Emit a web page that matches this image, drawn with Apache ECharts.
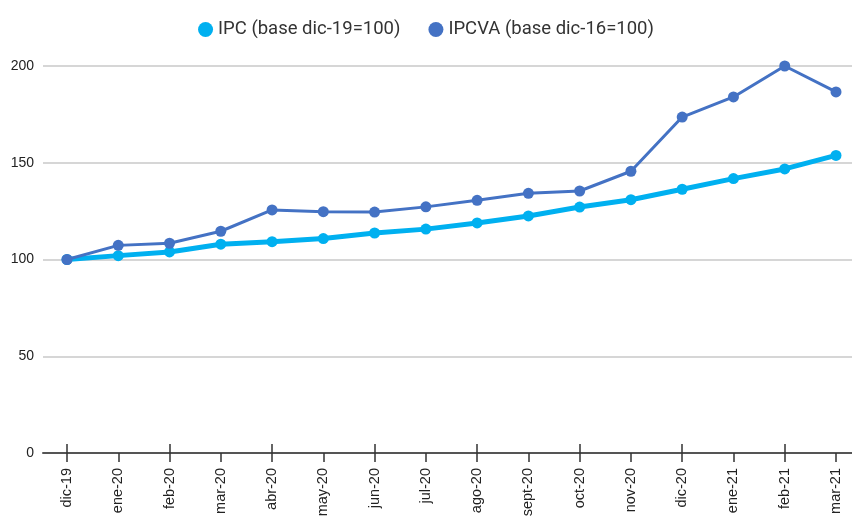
<!DOCTYPE html>
<html>
<head>
<meta charset="utf-8">
<script src="https://cdn.jsdelivr.net/npm/echarts@6/dist/echarts.min.js"></script>
<style>
  html, body { margin: 0; padding: 0; background: #fff; }
  #chart { width: 852px; height: 516px; }
</style>
</head>
<body>
<div id="chart"></div>
<script>
// categorías (meses)
const months = ['dic-19', 'ene-20', 'feb-20', 'mar-20', 'abr-20', 'may-20', 'jun-20', 'jul-20',
  'ago-20', 'sept-20', 'oct-20', 'nov-20', 'dic-20', 'ene-21', 'feb-21', 'mar-21']
// valores
const ipc = [100, 102.0, 103.9, 107.9, 109.2, 110.8, 113.7, 115.7, 118.9, 122.5, 127.1, 130.9, 136.3, 141.8, 146.8, 153.8]
const ipcva = [100, 107.3, 108.4, 114.6, 125.6, 124.7, 124.5, 127.2, 130.6, 134.2, 135.4, 145.6, 173.6, 184.0, 200.0, 186.6]
const yTicks = { min: 0, max: 200, interval: 50 }

const labelFont = 'Liberation Sans, Arial, sans-serif'

let option = {
  animation: false,
  legend: {
    top: 15,
    left: 'center',
    itemWidth: 15,
    itemHeight: 15,
    itemGap: 28,
    icon: 'circle',
    textStyle: { fontFamily: 'Roboto', fontSize: 18.5, color: '#333' },
    data: ['IPC (base dic-19=100)', 'IPCVA (base dic-16=100)']
  },
  grid: [
    // datos y marcas del eje x
    { left: 67, right: 16, top: 66, bottom: 63, outerBoundsMode: 'none', containLabel: false },
    // líneas de rejilla y etiquetas del eje y
    { left: 43, right: 0, top: 66, bottom: 63, outerBoundsMode: 'none', containLabel: false }
  ],
  xAxis: [
    {
      type: 'category',
      gridIndex: 0,
      data: months,
      boundaryGap: false,
      axisLine: { show: false },
      axisTick: { show: true, length: 9, lineStyle: { color: '#333', width: 1.5 } },
      axisLabel: {
        rotate: 90,
        margin: 15,
        fontFamily: labelFont,
        fontSize: 14.5,
        color: '#222'
      },
      splitLine: { show: false }
    },
    {
      // parte interior de las marcas que cruzan el eje
      type: 'category',
      gridIndex: 0,
      data: months,
      boundaryGap: false,
      position: 'bottom',
      axisLine: { show: false },
      axisTick: { show: true, inside: true, length: 9, lineStyle: { color: '#333', width: 1.5 } },
      axisLabel: { show: false },
      splitLine: { show: false }
    },
    {
      type: 'value',
      gridIndex: 1,
      min: 0,
      max: 1,
      axisLine: { show: true, lineStyle: { color: '#555', width: 2 } },
      axisTick: { show: false },
      axisLabel: { show: false },
      splitLine: { show: false }
    }
  ],
  yAxis: [
    {
      type: 'value',
      gridIndex: 0,
      min: yTicks.min,
      max: yTicks.max,
      interval: yTicks.interval,
      show: false
    },
    {
      type: 'value',
      gridIndex: 1,
      min: yTicks.min,
      max: yTicks.max,
      interval: yTicks.interval,
      axisLine: { show: false },
      axisTick: { show: false },
      axisLabel: { margin: 9, fontFamily: labelFont, fontSize: 14, color: '#222' },
      splitLine: { lineStyle: { color: '#c8c8c8', width: 1.5 } }
    }
  ],
  series: [
    {
      name: 'IPC (base dic-19=100)',
      type: 'line',
      xAxisIndex: 0,
      yAxisIndex: 0,
      data: ipc,
      symbol: 'circle',
      symbolSize: 11,
      lineStyle: { color: '#00b0f0', width: 5 },
      itemStyle: { color: '#00b0f0' },
      z: 3
    },
    {
      name: 'IPCVA (base dic-16=100)',
      type: 'line',
      xAxisIndex: 0,
      yAxisIndex: 0,
      data: ipcva,
      symbol: 'circle',
      symbolSize: 11,
      lineStyle: { color: '#4472c4', width: 3 },
      itemStyle: { color: '#4472c4' },
      z: 4
    }
  ]
}
echarts.init(document.getElementById('chart')).setOption(option)
</script>
</body>
</html>
